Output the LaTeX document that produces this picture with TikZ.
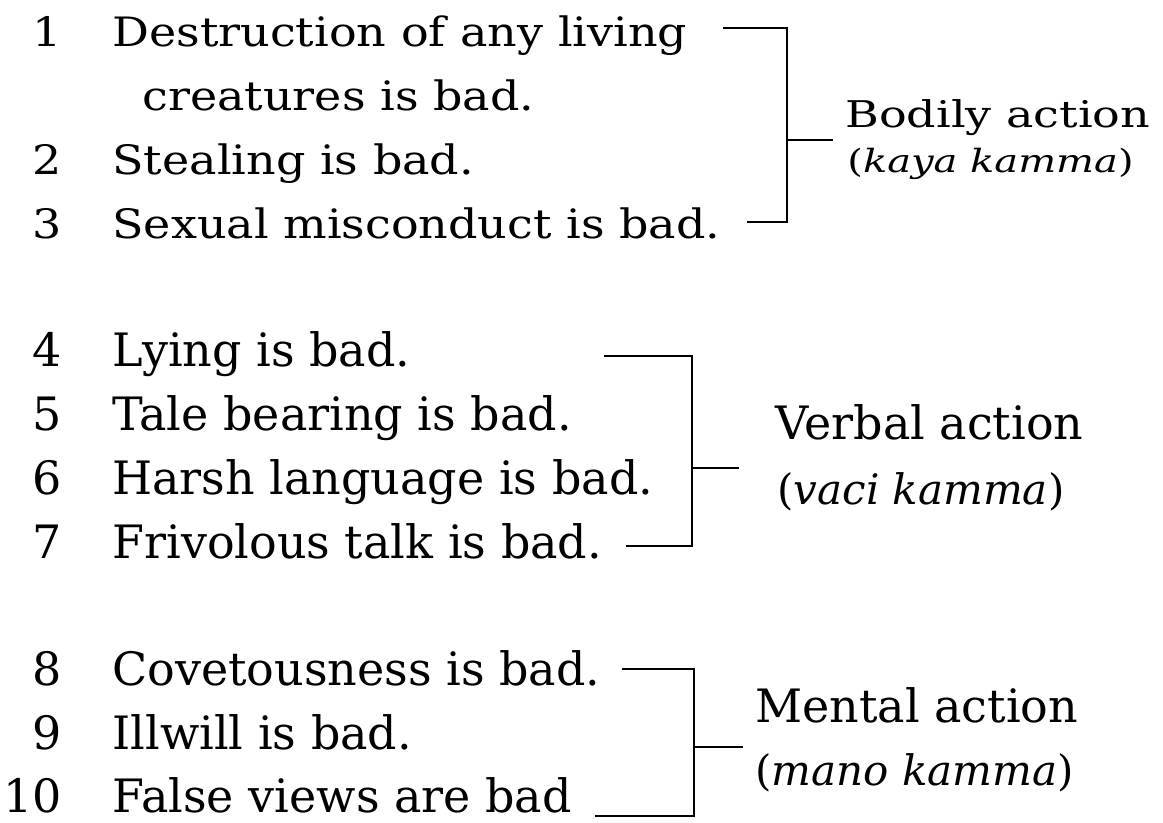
\documentclass[tikz,border=0pt]{standalone}
\usepackage{fontspec}
\setmainfont{DejaVu Serif}
\begin{document}
\begin{tikzpicture}[x=0.5pt,y=-0.5pt,
  txt/.style={anchor=base west,inner sep=0pt,transform shape,font=\fontsize{23}{28}\selectfont},
  num/.style={txt,anchor=base east},
  gloss/.style={txt,font=\fontsize{21}{26}\selectfont\itshape},
  wide/.style={yscale=0.88},
  flat/.style={yscale=0.8},
  brk/.style={line width=1pt}]
\useasboundingbox (0,0) rectangle (1163,823);

\node[num,wide] (n1) at (62,47) {1};
\node[txt,wide] (t1) at (112,47) {Destruction of any living};
\node[txt,wide] (t1b) at (142,111) {creatures is bad.};
\node[num,wide] (n2) at (62,175) {2};
\node[txt,wide] (t2) at (112,175) {Stealing is bad.};
\node[num,wide] (n3) at (62,239) {3};
\node[txt,wide] (t3) at (112,239) {Sexual misconduct is bad.};

\node[num] (n4) at (62,367) {4};
\node[txt] (t4) at (112,367) {Lying is bad.};
\node[num] (n5) at (62,431) {5};
\node[txt] (t5) at (112,431) {Tale bearing is bad.};
\node[num] (n6) at (62,495) {6};
\node[txt] (t6) at (112,495) {Harsh language is bad.};
\node[num] (n7) at (62,559) {7};
\node[txt] (t7) at (112,559) {Frivolous talk is bad.};

\node[num] (n8) at (62,686) {8};
\node[txt] (t8) at (112,686) {Covetousness is bad.};
\node[num] (n9) at (62,749) {9};
\node[txt] (t9) at (112,749) {Illwill is bad.};
\node[num] (n10) at (62,812) {10};
\node[txt] (t10) at (112,812) {False views are bad};

% brackets
\coordinate (a1) at (723,28);
\coordinate (z1) at (747,222);
\coordinate (v1) at (787,140);
\coordinate (s1) at (833,140);
\draw[brk] (a1) -| (v1) |- (z1);
\draw[brk] (v1) -- (s1);

\coordinate (a2) at (604,356);
\coordinate (z2) at (626,546);
\coordinate (v2) at (692,468);
\coordinate (s2) at (739,468);
\draw[brk] (a2) -| (v2) |- (z2);
\draw[brk] (v2) -- (s2);

\coordinate (a3) at (622,669);
\coordinate (z3) at (595,816);
\coordinate (v3) at (694,747);
\coordinate (s3) at (743,747);
\draw[brk] (a3) -| (v3) |- (z3);
\draw[brk] (v3) -- (s3);

% labels
\node[txt,flat] (body) at (845,128) {Bodily action};
\node[gloss,flat,font=\fontsize{20}{24}\selectfont\itshape] (bodyp) at (847,173) {\upshape(\itshape kaya kamma\upshape)};
\node[txt] (speech) at (775,440) {Verbal action};
\node[gloss] (speechp) at (777,505) {\upshape(\itshape vaci kamma\upshape)};
\node[txt] (mind) at (755,722) {Mental action};
\node[gloss] (mindp) at (755,785) {\upshape(\itshape mano kamma\upshape)};
\end{tikzpicture}
\end{document}
